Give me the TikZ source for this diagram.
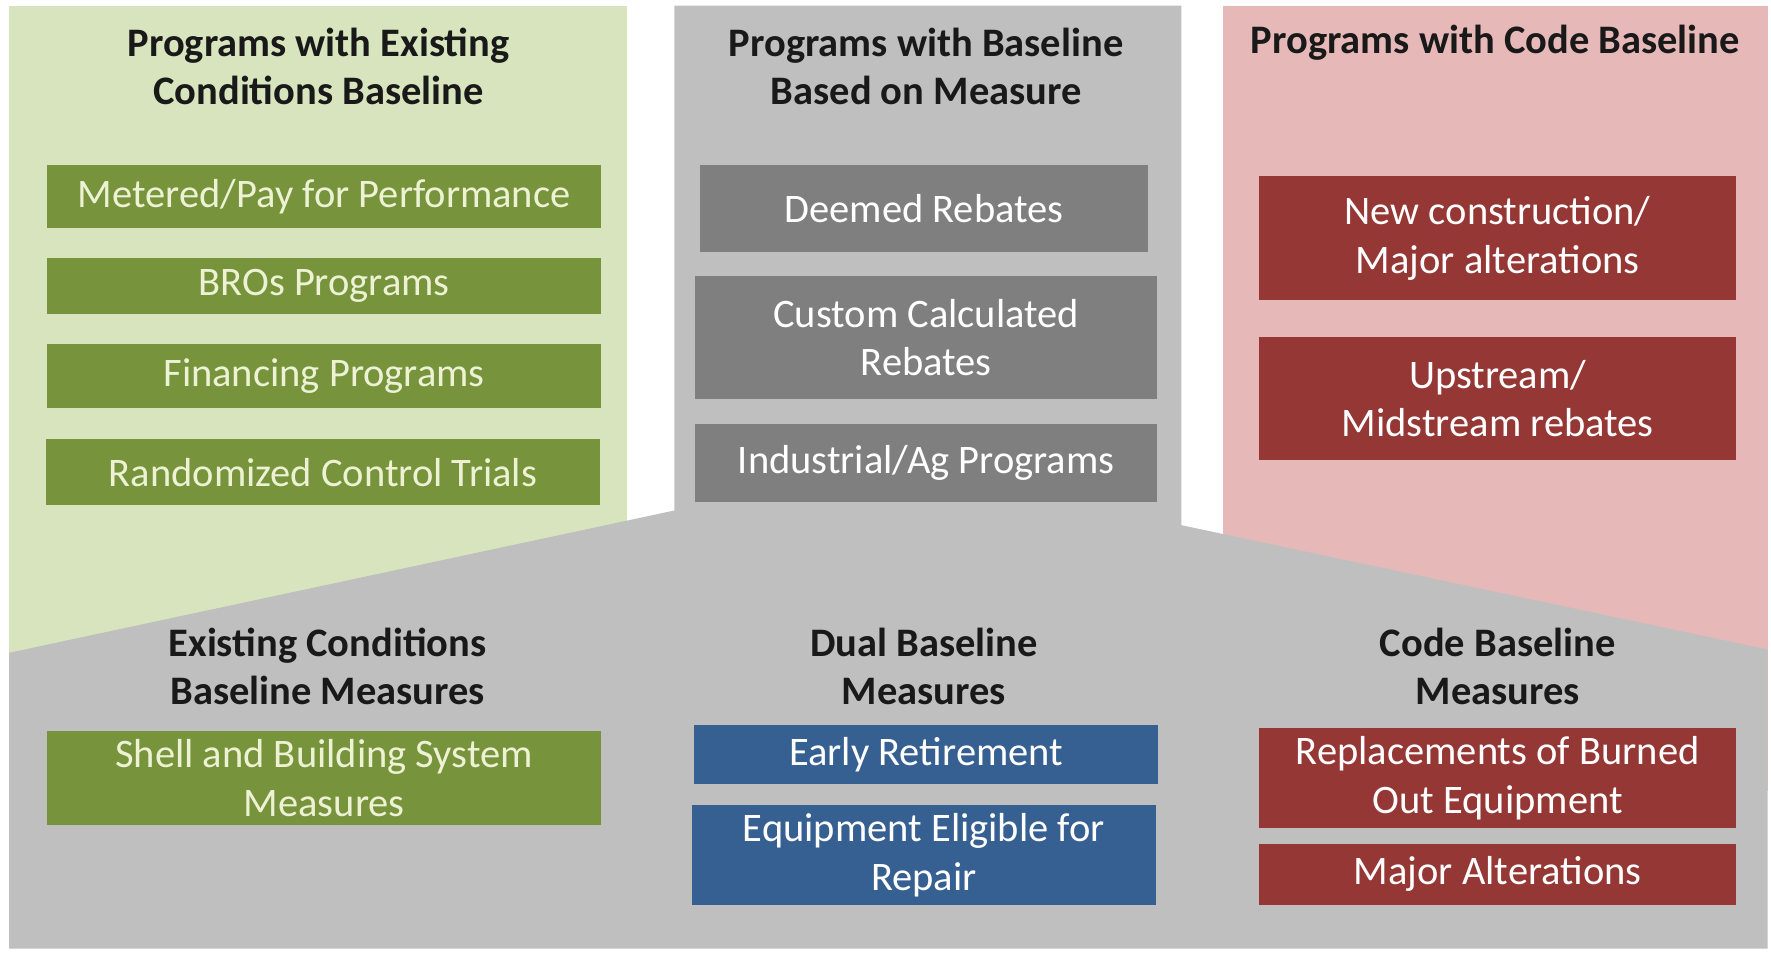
\documentclass[tikz,border=0pt]{standalone}
\usepackage{fontspec}
\setmainfont{Carlito}
\usepackage{xcolor}

\definecolor{paleGreen}{HTML}{D7E4BD}
\definecolor{paleGray}{HTML}{BFBFBF}
\definecolor{palePink}{HTML}{E6B9B8}
\definecolor{oliveBox}{HTML}{77933C}
\definecolor{grayBox}{HTML}{7F7F7F}
\definecolor{redBox}{HTML}{953735}
\definecolor{blueBox}{HTML}{376092}
\definecolor{creamText}{HTML}{EEF2D5}

\tikzset{
	every node/.style={font=\fontsize{10.2}{12.2}\selectfont, inner sep=0pt, align=center},
	head/.style={font=\fontsize{10.2}{12.2}\selectfont\bfseries, text=black!90},
	prog/.style={minimum width=#1, text=white},
	greenprog/.style={prog=49mm, fill=oliveBox, text=creamText},
	grayprog/.style={prog=40.9mm, fill=grayBox},
	redprog/.style={prog=42.2mm, fill=redBox},
	blueprog/.style={prog=41.1mm, fill=blueBox},
}

\begin{document}
\begin{tikzpicture}[x=0.1mm, y=-0.1mm]
		\fill[white] (0,0) rectangle (1568,843);
		\useasboundingbox (0,0) rectangle (1568,843);
		% three program columns
		\fill[paleGreen] (8,5) rectangle (555,700);
		\fill[palePink] (1083,5) rectangle (1565,700);
		\fill[paleGray] (8,840) -- (8,578) -- (597,452) -- (597,5) -- (1046,5)
			-- (1046,465) -- (1565,575) -- (1565,840) -- cycle;

		% column headings
		\node[head] (hexist) at (282,59) {Programs with Existing\\Conditions Baseline};
		\node[head] (hmeasure) at (820,59) {Programs with Baseline\\Based on Measure};
		\node[head] (hcode) at (1324,38) {Programs with Code Baseline};

		% existing conditions programs
		\node[greenprog, minimum height=5.6mm] (metered) at (287,174) {Metered/Pay for Performance};
		\node[greenprog, minimum height=5mm] (bros) at (287,253) {BROs Programs};
		\node[greenprog, minimum height=5.6mm] (financing) at (287,333) {Financing Programs};
		\node[greenprog, minimum height=5.8mm] (rct) at (286,418) {Randomized Control Trials};

		% measure based programs
		\node[grayprog, minimum width=39.6mm, minimum height=7.7mm] (deemed) at (818,185) {Deemed Rebates};
		\node[grayprog, minimum height=10.9mm] (custom) at (820,299) {Custom Calculated\\Rebates};
		\node[grayprog, minimum height=6.9mm] (industrial) at (820,410) {Industrial/Ag Programs};

		% code baseline programs
		\node[redprog, minimum height=11mm] (newcon) at (1326,211) {New construction/\\Major alterations};
		\node[redprog, minimum height=10.9mm] (upstream) at (1326,353) {Upstream/\\Midstream rebates};

		% measure groups
		\node[head] (mexist) at (290,590) {Existing Conditions\\Baseline Measures};
		\node[head] (mdual) at (818,590) {Dual Baseline\\Measures};
		\node[head] (mcode) at (1326,590) {Code Baseline\\Measures};

		\node[greenprog, minimum height=8.3mm] (shell) at (287,689) {Shell and Building System\\Measures};
		\node[blueprog, minimum height=5.3mm] (early) at (820,668) {Early Retirement};
		\node[blueprog, minimum height=8.8mm] (repair) at (818,757) {Equipment Eligible for\\Repair};
		\node[redprog, minimum height=8.8mm] (burned) at (1326,689) {Replacements of Burned\\Out Equipment};
		\node[redprog, minimum height=5.4mm] (major) at (1326,774) {Major Alterations};
	\end{tikzpicture}
\end{document}
